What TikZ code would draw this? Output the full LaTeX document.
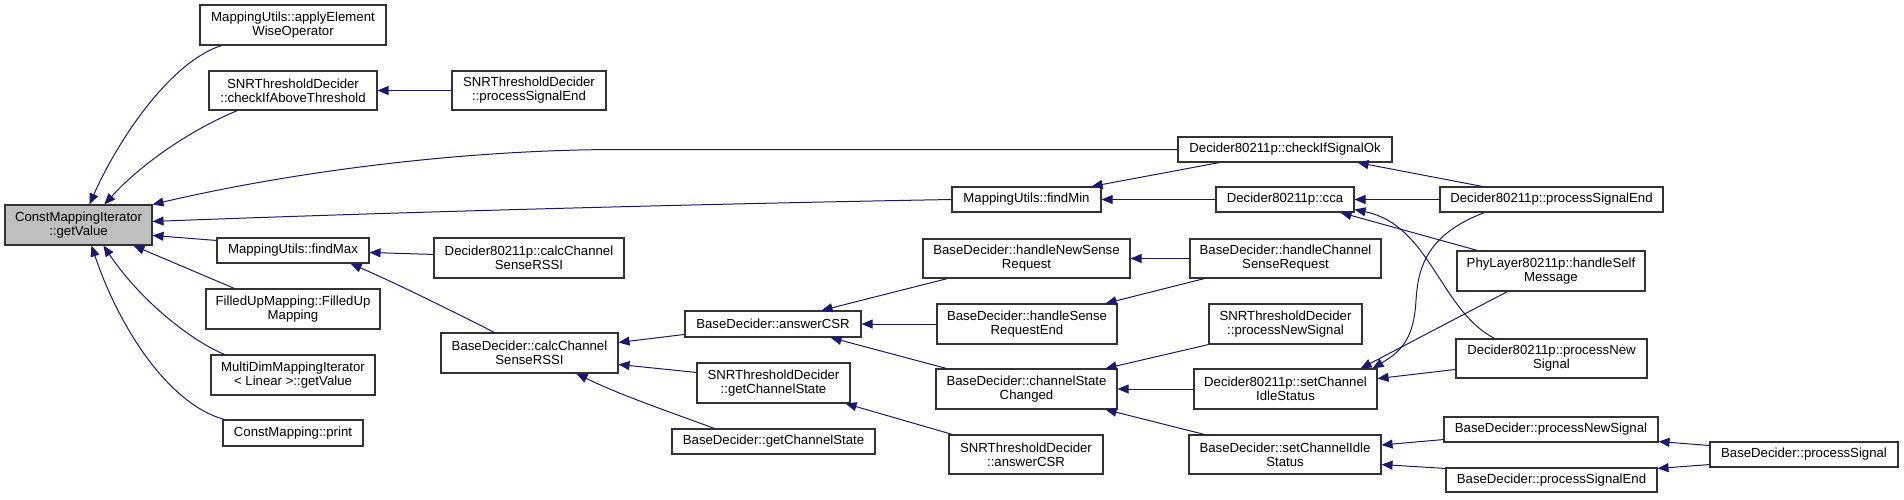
\documentclass[tikz,border=0pt]{standalone}
\usepackage{fontspec}
\setmainfont{Liberation Sans}
\usetikzlibrary{arrows.meta}
\definecolor{edgeblue}{HTML}{191970}
\definecolor{boxline}{HTML}{333333}
\definecolor{rootfill}{HTML}{BFBFBF}
\tikzset{
  box/.style={draw=boxline, line width=1.1pt, rectangle, inner sep=0pt, align=center, fill=white,
              font=\fontsize{13.2}{14}\selectfont},
  rootbox/.style={box, fill=rootfill},
  edge/.style={draw=edgeblue, line width=1pt, -{Triangle[length=11pt,width=9pt]}}
}
\begin{document}
\begin{tikzpicture}[x=1pt,y=-1pt]
\useasboundingbox (0,0) rectangle (1904,499);

% nodes
\node[rootbox, minimum width=147pt, minimum height=40pt] (gv) at (78.5,225) {ConstMappingIterator\\::getValue};
\node[box, minimum width=186pt, minimum height=40pt] (apply) at (293,25) {MappingUtils::applyElement\\WiseOperator};
\node[box, minimum width=168pt, minimum height=39pt] (chk) at (293,90.5) {SNRThresholdDecider\\::checkIfAboveThreshold};
\node[box, minimum width=154pt, minimum height=39pt] (snrpse) at (529,90.5) {SNRThresholdDecider\\::processSignalEnd};
\node[box, minimum width=152pt, minimum height=25pt] (fmax) at (293,250.5) {MappingUtils::findMax};
\node[box, minimum width=174pt, minimum height=40pt] (filled) at (293,309) {FilledUpMapping::FilledUp\\Mapping};
\node[box, minimum width=164pt, minimum height=40pt] (multi) at (293,375) {MultiDimMappingIterator\\\textless{} Linear \textgreater{}::getValue};
\node[box, minimum width=140pt, minimum height=26pt] (print) at (293,433) {ConstMapping::print};
\node[box, minimum width=190pt, minimum height=40pt] (dcalc) at (529,258) {Decider80211p::calcChannel\\SenseRSSI};
\node[box, minimum width=177pt, minimum height=40pt] (bcalc) at (529.5,353) {BaseDecider::calcChannel\\SenseRSSI};
\node[box, minimum width=176pt, minimum height=26pt] (acsr) at (773,324) {BaseDecider::answerCSR};
\node[box, minimum width=153pt, minimum height=40pt] (snrgcs) at (773.5,383) {SNRThresholdDecider\\::getChannelState};
\node[box, minimum width=203pt, minimum height=25pt] (bgcs) at (773.5,441.5) {BaseDecider::getChannelState};
\node[box, minimum width=214pt, minimum height=25pt] (okay) at (1285,149.5) {Decider80211p::checkIfSignalOk};
\node[box, minimum width=149pt, minimum height=25pt] (fmin) at (1026.5,199.5) {MappingUtils::findMin};
\node[box, minimum width=138pt, minimum height=25pt] (cca) at (1285,199.5) {Decider80211p::cca};
\node[box, minimum width=207pt, minimum height=39pt] (hnsr) at (1026.5,258.5) {BaseDecider::handleNewSense\\Request};
\node[box, minimum width=191pt, minimum height=39pt] (hcsr) at (1285.5,258.5) {BaseDecider::handleChannel\\SenseRequest};
\node[box, minimum width=180pt, minimum height=40pt] (hsre) at (1027,324) {BaseDecider::handleSense\\RequestEnd};
\node[box, minimum width=153pt, minimum height=40pt] (snrpns) at (1285.5,324) {SNRThresholdDecider\\::processNewSignal};
\node[box, minimum width=181pt, minimum height=40pt] (csc) at (1026.5,389) {BaseDecider::channelState\\Changed};
\node[box, minimum width=183pt, minimum height=40pt] (dscis) at (1285.5,389) {Decider80211p::setChannel\\IdleStatus};
\node[box, minimum width=154pt, minimum height=39pt] (snracsr) at (1026,454.5) {SNRThresholdDecider\\::answerCSR};
\node[box, minimum width=192pt, minimum height=39pt] (bscis) at (1285,454.5) {BaseDecider::setChannelIdle\\Status};
\node[box, minimum width=223pt, minimum height=25pt] (dpse) at (1551.5,199.5) {Decider80211p::processSignalEnd};
\node[box, minimum width=188pt, minimum height=40pt] (phy) at (1551,271) {PhyLayer80211p::handleSelf\\Message};
\node[box, minimum width=191pt, minimum height=39pt] (dpns) at (1551.5,358.5) {Decider80211p::processNew\\Signal};
\node[box, minimum width=214pt, minimum height=25pt] (bpns) at (1551,429.5) {BaseDecider::processNewSignal};
\node[box, minimum width=211pt, minimum height=24pt] (bpse) at (1551.5,480) {BaseDecider::processSignalEnd};
\node[box, minimum width=188pt, minimum height=25pt] (bps) at (1804,454.5) {BaseDecider::processSignal};

% edges into getValue
\draw[edge] ([shift={(22,0)}]apply.south west) .. controls (170,62) and (118,140) .. ([shift={(85,0)}]gv.north west);
\draw[edge] ([shift={(29,0)}]chk.south west) .. controls (190,130) and (140,165) .. ([shift={(100,0)}]gv.north west);
\draw[edge] (okay.west) -- (620,149.5) .. controls (470,149.5) and (300,170) .. (gv.north east);
\draw[edge] (fmin.west) .. controls (700,204) and (400,212) .. ([shift={(0,17)}]gv.north east);
\draw[edge] ([shift={(0,3)}]fmax.north west) -- ([shift={(0,31)}]gv.north east);
\draw[edge] ([shift={(29,0)}]filled.north west) -- ([shift={(129,0)}]gv.south west);
\draw[edge] ([shift={(14,0)}]multi.north west) .. controls (190,340) and (140,300) .. ([shift={(99,0)}]gv.south west);
\draw[edge] ([shift={(2,0)}]print.north west) .. controls (170,405) and (120,330) .. ([shift={(87,0)}]gv.south west);

% second column
\draw[edge] (snrpse.west) -- (chk.east);
\draw[edge] ([shift={(0,17)}]dcalc.north west) -- ([shift={(0,15)}]fmax.north east);
\draw[edge] ([shift={(54,0)}]bcalc.north west) .. controls (460,315) and (400,285) .. ([shift={(-19,0)}]fmax.south east);
\draw[edge] ([shift={(0,24)}]acsr.north west) -- ([shift={(0,10)}]bcalc.north east);
\draw[edge] ([shift={(0,10)}]snrgcs.north west) -- ([shift={(0,32)}]bcalc.north east);
\draw[edge] ([shift={(43,0)}]bgcs.north west) .. controls (670,412) and (620,395) .. ([shift={(136,0)}]bcalc.south west);

% third column
\draw[edge] ([shift={(25,0)}]hnsr.south west) -- ([shift={(-40,0)}]acsr.north east);
\draw[edge] (hsre.west) -- (acsr.east);
\draw[edge] ([shift={(11,0)}]csc.north west) -- ([shift={(-31,0)}]acsr.south east);
\draw[edge] ([shift={(4,0)}]snracsr.north west) -- ([shift={(-5,0)}]snrgcs.south east);

% fourth column
\draw[edge] (hcsr.west) -- (hnsr.east);
\draw[edge] ([shift={(15,0)}]hcsr.south west) -- ([shift={(-12,0)}]hsre.north east);
\draw[edge] (snrpns.south west) -- ([shift={(-12,0)}]csc.north east);
\draw[edge] (dscis.west) -- (csc.east);
\draw[edge] ([shift={(16,0)}]bscis.north west) -- ([shift={(-12,0)}]csc.south east);
\draw[edge] ([shift={(42,0)}]okay.south west) -- ([shift={(-10,0)}]fmin.north east);
\draw[edge] (cca.west) -- (fmin.east);

% fifth column
\draw[edge] ([shift={(43,0)}]dpse.north west) -- ([shift={(-35,0)}]okay.south east);
\draw[edge] (dpse.west) -- (cca.east);
\draw[edge] ([shift={(21,0)}]phy.north west) -- ([shift={(-14,0)}]cca.south east);
\draw[edge] ([shift={(39,0)}]dpns.north west) .. controls (1440,310) and (1430,225) .. ([shift={(0,-3)}]cca.south east);
\draw[edge] ([shift={(45,0)}]dpse.south west) .. controls (1425,235) and (1418,270) .. (1416,300) .. controls (1414,340) and (1400,352) .. ([shift={(-5,0)}]dscis.north east);
\draw[edge] ([shift={(51,0)}]phy.south west) -- ([shift={(-17,0)}]dscis.north east);
\draw[edge] ([shift={(0,31)}]dpns.north west) -- ([shift={(0,-31)}]dscis.south east);
\draw[edge] ([shift={(0,-3)}]bpns.south west) -- ([shift={(0,-9.5)}]bscis.east);
\draw[edge] ([shift={(0,1)}]bpse.north west) -- ([shift={(0,10)}]bscis.east);

% last column
\draw[edge] ([shift={(0,4)}]bps.north west) -- ([shift={(0,-1)}]bpns.south east);
\draw[edge] ([shift={(0,-3)}]bps.south west) -- ([shift={(0,1)}]bpse.north east);
\end{tikzpicture}
\end{document}
